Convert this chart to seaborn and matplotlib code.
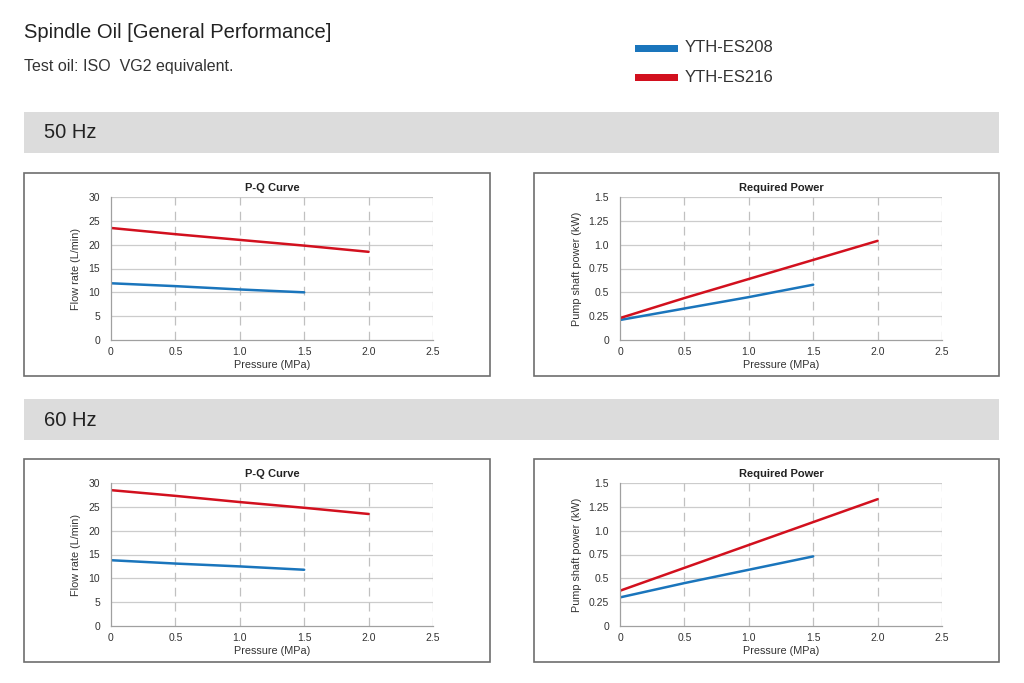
import numpy as np
import pandas as pd
import matplotlib
matplotlib.use("Agg")
import matplotlib.pyplot as plt
from matplotlib.patches import Rectangle
import seaborn as sns

sns.set_theme(style="white")
plt.rcParams['font.family'] = ['Liberation Sans', 'DejaVu Sans']

# ---- data ----
models = ["YTH-ES208", "YTH-ES216"]
colors = ["#1a75bc", "#d2101e"]
pressure_208 = [0.0, 0.5, 1.0, 1.5]
pressure_216 = [0.0, 0.5, 1.0, 1.5, 2.0]

flow_50_208 = [11.9, 11.3, 10.6, 10.0]
flow_50_216 = [23.5, 22.2, 21.0, 19.8, 18.5]
power_50_208 = [0.21, 0.33, 0.45, 0.58]
power_50_216 = [0.23, 0.44, 0.64, 0.84, 1.04]

flow_60_208 = [13.8, 13.1, 12.5, 11.8]
flow_60_216 = [28.5, 27.3, 26.0, 24.8, 23.5]
power_60_208 = [0.30, 0.45, 0.59, 0.73]
power_60_216 = [0.37, 0.61, 0.85, 1.09, 1.33]

x_ticks = [0, 0.5, 1.0, 1.5, 2.0, 2.5]
x_ticklabels = ["0", "0.5", "1.0", "1.5", "2.0", "2.5"]
flow_ticks = [0, 5, 10, 15, 20, 25, 30]
flow_ticklabels = ["0", "5", "10", "15", "20", "25", "30"]
power_ticks = [0, 0.25, 0.5, 0.75, 1.0, 1.25, 1.5]
power_ticklabels = ["0", "0.25", "0.5", "0.75", "1.0", "1.25", "1.5"]

title = "Spindle Oil [General Performance]"
subtitle = "Test oil: ISO  VG2 equivalent."
bands = ["50 Hz", "60 Hz"]


def make_df(y208, y216):
    return pd.DataFrame({
        "Pressure": pressure_208 + pressure_216,
        "Value": y208 + y216,
        "Model": [models[0]] * len(y208) + [models[1]] * len(y216),
    })


W, H = 1024, 683
fig = plt.figure(figsize=(W / 100, H / 100), dpi=100)
fig.patch.set_facecolor("white")


def fx(px):
    return px / W


def fy(py):
    return 1 - py / H


# header
fig.text(fx(24), fy(32), title, fontsize=14.5, color="#222222", va="center", ha="left")
fig.text(fx(24), fy(66), subtitle, fontsize=11.5, color="#333333", va="center", ha="left")
for i, (m, c) in enumerate(zip(models, colors)):
    yy = 48 + i * 29
    fig.add_artist(Rectangle((fx(635), fy(yy + 3.5)), fx(678) - fx(635), 7 / H,
                             transform=fig.transFigure, facecolor=c, edgecolor="none"))
    fig.text(fx(685), fy(yy), m, fontsize=12, color="#333333", va="center", ha="left")

# bands
for b, (label, ytop) in enumerate(zip(bands, [112, 399])):
    fig.add_artist(Rectangle((fx(24), fy(ytop + 41)), fx(999) - fx(24), 41 / H,
                             transform=fig.transFigure, facecolor="#dcdcdc", edgecolor="none"))
    fig.text(fx(44), fy(ytop + 21), label, fontsize=14.5, color="#222222", va="center", ha="left")

panels = [
    (24, 173, 111, 340, make_df(flow_50_208, flow_50_216), flow_ticks, flow_ticklabels, 30,
     "Flow rate (L/min)", "P-Q Curve", 3),
    (534, 173, 620, 340, make_df(power_50_208, power_50_216), power_ticks, power_ticklabels, 1.5,
     "Pump shaft power (kW)", "Required Power", 0),
    (24, 459, 111, 626, make_df(flow_60_208, flow_60_216), flow_ticks, flow_ticklabels, 30,
     "Flow rate (L/min)", "P-Q Curve", 3),
    (534, 459, 620, 626, make_df(power_60_208, power_60_216), power_ticks, power_ticklabels, 1.5,
     "Pump shaft power (kW)", "Required Power", 0),
]

for (bl, bt, al, ab, df, yt, ytl, ymax, ylab, ttl, ytl_len) in panels:
    bw = 466 if bl == 24 else 465
    fig.add_artist(Rectangle((fx(bl), fy(bt + 203)), bw / W, 203 / H,
                             transform=fig.transFigure, facecolor="none",
                             edgecolor="#6e6e6e", linewidth=1.2))
    ax = fig.add_axes([fx(al), fy(ab), 322 / W, 143 / H])
    ax.set_facecolor("none")
    sns.lineplot(data=df, x="Pressure", y="Value", hue="Model", palette=colors,
                 hue_order=models, ax=ax, linewidth=1.8, legend=False)
    ax.set_xlim(0, 2.5)
    ax.set_ylim(0, ymax)
    ax.set_xticks(x_ticks)
    ax.set_xticklabels(x_ticklabels)
    ax.set_yticks(yt)
    ax.set_yticklabels(ytl)
    for v in yt[1:]:
        ax.axhline(v, color="#cccccc", linewidth=0.9, zorder=0)
    for v in x_ticks[1:]:
        ax.axvline(v, color="#c0c0c0", linewidth=0.9, linestyle=(0, (7, 5)), zorder=0)
    for s in ["top", "right"]:
        ax.spines[s].set_visible(False)
    for s in ["left", "bottom"]:
        ax.spines[s].set_color("#a0a0a0")
        ax.spines[s].set_linewidth(0.9)
    ax.tick_params(axis="y", length=ytl_len, color="#a0a0a0", labelsize=7.5,
                   labelcolor="#333333", pad=8 - ytl_len)
    ax.tick_params(axis="x", length=3, color="#a0a0a0", labelsize=7.5,
                   labelcolor="#333333", pad=2)
    ax.set_xlabel("Pressure (MPa)", fontsize=7.8, color="#333333", labelpad=2)
    ax.set_ylabel(ylab, fontsize=7.8, color="#333333", labelpad=5)
    ax.set_title(ttl, fontsize=8, fontweight="bold", color="#222222", pad=4)

fig.savefig("out.png", dpi=100, facecolor="white")
